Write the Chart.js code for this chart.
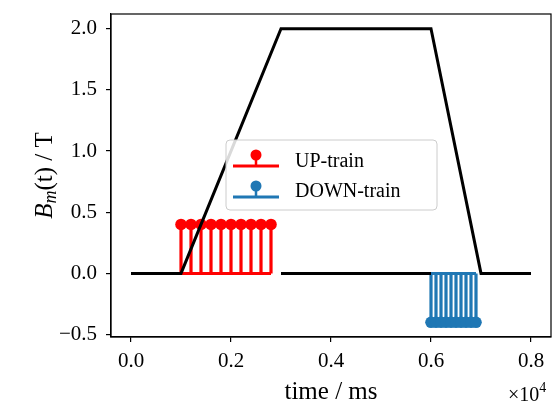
<!DOCTYPE html>
<html>
<head>
<meta charset="utf-8">
<script src="https://cdn.jsdelivr.net/npm/chart.js@4/dist/chart.umd.min.js"></script>
<style>
  html, body { margin: 0; padding: 0; background: #fff; }
  #wrap { width: 553px; height: 406px; }
</style>
</head>
<body>
<div id="wrap"><canvas id="c" width="553" height="406"></canvas></div>
<script>
// ---- data ----
const fieldTimes = [0, 1000, 3000, 6000, 7000, 8000];
const fieldValues = [0, 0, 2.0, 2.0, 0, 0];
const zeroTimes = [3000, 6000];
const zeroValues = [0, 0];
const upTimes = [1000, 1200, 1400, 1600, 1800, 2000, 2200, 2400, 2600, 2800];
const upValues = [0.4, 0.4, 0.4, 0.4, 0.4, 0.4, 0.4, 0.4, 0.4, 0.4];
const downTimes = [6000, 6100, 6200, 6300, 6400, 6500, 6600, 6700, 6800, 6900];
const downValues = [-0.4, -0.4, -0.4, -0.4, -0.4, -0.4, -0.4, -0.4, -0.4, -0.4];
const xTickValues = [0, 2000, 4000, 6000, 8000];
const yTickValues = [-0.5, 0, 0.5, 1.0, 1.5, 2.0];
const legendLabels = ['UP-train', 'DOWN-train'];

const RED = '#ff0000';
const BLUE = '#1f77b4';
const SERIF = '"Liberation Serif", "Times New Roman", serif';

function toXY(xs, ys) { return xs.map((x, i) => ({ x: x, y: ys[i] })); }
function stemLines(xs, ys) {
  const pts = [];
  xs.forEach((x, i) => { pts.push({ x: x, y: 0 }, { x: x, y: ys[i] }, { x: x, y: null }); });
  return pts;
}
function baseLine(xs) { return [{ x: xs[0], y: 0 }, { x: xs[xs.length - 1], y: 0 }]; }

const headRadius = (ctx) => (ctx.raw && ctx.raw.y !== null && ctx.raw.y !== 0) ? 5.8 : 0;

const frameAndText = {
  id: 'frameAndText',
  afterDraw(chart) {
    const ctx = chart.ctx;
    const a = chart.chartArea;
    ctx.save();
    // frame
    ctx.strokeStyle = '#000';
    ctx.lineWidth = 1.2;
    ctx.strokeRect(a.left, a.top, a.right - a.left, a.bottom - a.top);

    // x title
    ctx.fillStyle = '#000';
    ctx.font = '25px ' + SERIF;
    ctx.textAlign = 'center';
    ctx.textBaseline = 'alphabetic';
    ctx.fillText('time / ms', (a.left + a.right) / 2, 399);

    // offset text x10^4
    ctx.textAlign = 'left';
    ctx.font = '20px ' + SERIF;
    ctx.fillText('\u00d710', 508, 401);
    const w10 = ctx.measureText('\u00d710').width;
    ctx.font = '14px ' + SERIF;
    ctx.fillText('4', 508 + w10, 392);

    // y title: B_m(t) / T
    ctx.save();
    ctx.translate(44, (a.top + a.bottom) / 2);
    ctx.rotate(-Math.PI / 2);
    const parts = [
      { t: 'B', f: 'italic 25px ' + SERIF, dy: 0 },
      { t: 'm', f: 'italic 18px ' + SERIF, dy: 4 },
      { t: '(t) / T', f: '25px ' + SERIF, dy: 0 }
    ];
    let total = 0;
    parts.forEach(p => { ctx.font = p.f; p.w = ctx.measureText(p.t).width; total += p.w; });
    let x = -total / 2;
    ctx.textAlign = 'left';
    parts.forEach(p => { ctx.font = p.f; ctx.fillText(p.t, x, 8 + p.dy); x += p.w; });
    ctx.restore();

    // legend
    const lx = 226, ly = 140, lw = 211, lh = 70;
    ctx.beginPath();
    ctx.roundRect(lx, ly, lw, lh, 4);
    ctx.fillStyle = 'rgba(255,255,255,0.85)';
    ctx.fill();
    ctx.strokeStyle = '#cccccc';
    ctx.lineWidth = 1;
    ctx.stroke();
    const entries = [
      { label: legendLabels[0], color: RED, base: 166, text: 167 },
      { label: legendLabels[1], color: BLUE, base: 197, text: 197 }
    ];
    entries.forEach(e => {
      ctx.strokeStyle = e.color;
      ctx.lineWidth = 3;
      ctx.beginPath(); ctx.moveTo(233, e.base); ctx.lineTo(279, e.base); ctx.stroke();
      ctx.lineWidth = 2.5;
      ctx.beginPath(); ctx.moveTo(256, e.base); ctx.lineTo(256, e.base - 11); ctx.stroke();
      ctx.fillStyle = e.color;
      ctx.beginPath(); ctx.arc(256, e.base - 11, 5.5, 0, Math.PI * 2); ctx.fill();
      ctx.fillStyle = '#000';
      ctx.font = '20px ' + SERIF;
      ctx.textAlign = 'left';
      ctx.textBaseline = 'alphabetic';
      ctx.fillText(e.label, 295, e.text);
    });
    ctx.restore();
  }
};

new Chart(document.getElementById('c'), {
  type: 'line',
  data: {
    datasets: [
      { label: 'field', data: toXY(fieldTimes, fieldValues), borderColor: '#000', borderWidth: 3, pointRadius: 0, tension: 0, order: 0 },
      { label: 'zero', data: toXY(zeroTimes, zeroValues), borderColor: '#000', borderWidth: 3, pointRadius: 0, order: 0 },
      { label: 'UP-train', data: stemLines(upTimes, upValues), borderColor: RED, backgroundColor: RED, borderWidth: 3.2, borderCapStyle: 'butt', pointRadius: headRadius, pointBorderWidth: 0, spanGaps: false, order: 3 },
      { label: 'UP-base', data: baseLine(upTimes), borderColor: RED, borderWidth: 3, pointRadius: 0, order: 2 },
      { label: 'DOWN-train', data: stemLines(downTimes, downValues), borderColor: BLUE, backgroundColor: BLUE, borderWidth: 3.2, borderCapStyle: 'butt', pointRadius: headRadius, pointBorderWidth: 0, spanGaps: false, order: 3 },
      { label: 'DOWN-base', data: baseLine(downTimes), borderColor: BLUE, borderWidth: 3, pointRadius: 0, order: 2 }
    ]
  },
  options: {
    responsive: false,
    animation: false,
    events: [],
    layout: { padding: { top: 14, right: 2, left: 0, bottom: 0 } },
    plugins: { legend: { display: false }, tooltip: { enabled: false } },
    scales: {
      x: {
        type: 'linear', min: -400, max: 8400, offset: false,
        afterBuildTicks(s) { s.ticks = xTickValues.map(v => ({ value: v })); },
        afterFit(s) { s.height = 69; s.paddingLeft = 0; s.paddingRight = 0; },
        grid: { drawOnChartArea: false, drawTicks: true, tickLength: 5, color: '#000', lineWidth: 1.2 },
        border: { display: true, color: '#000', width: 1.2 },
        ticks: {
          color: '#000', font: { family: SERIF, size: 21 }, padding: 7, maxRotation: 0,
          callback: (v) => (v / 10000).toFixed(1)
        }
      },
      y: {
        type: 'linear', min: -0.52, max: 2.12,
        afterBuildTicks(s) { s.ticks = yTickValues.map(v => ({ value: v })); },
        afterFit(s) { s.width = 111; s.paddingTop = 0; s.paddingBottom = 0; },
        grid: { drawOnChartArea: false, drawTicks: true, tickLength: 5, color: '#000', lineWidth: 1.2 },
        border: { display: true, color: '#000', width: 1.2 },
        ticks: {
          color: '#000', font: { family: SERIF, size: 21 }, padding: 9,
          callback: (v) => (v < 0 ? '\u2212' : '') + Math.abs(v).toFixed(1)
        }
      }
    }
  },
  plugins: [frameAndText]
});
</script>
</body>
</html>
